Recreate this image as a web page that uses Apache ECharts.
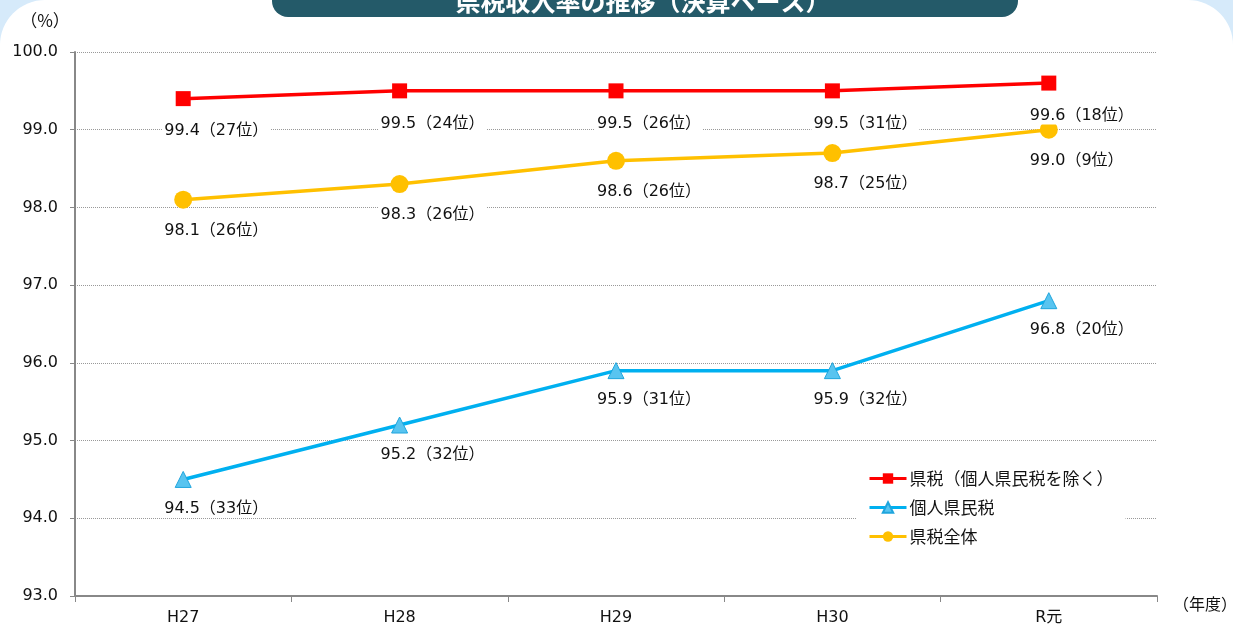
<!DOCTYPE html>
<html><head><meta charset="utf-8">
<script src="https://cdn.jsdelivr.net/npm/echarts@6/dist/echarts.min.js"></script>
<style>html,body{margin:0;padding:0;background:#d6eafa;}#c{width:1233px;height:628px;}</style>
</head><body><div id="c"></div>
<script>
const categories = ['H27', 'H28', 'H29', 'H30', 'R元'];
const seriesNames = ['県税（個人県民税を除く）', '個人県民税', '県税全体'];
const kenzeiValues = [99.4, 99.5, 99.5, 99.5, 99.6];
const kenzeiRanks = [27, 24, 26, 31, 18];
const kojinValues = [94.5, 95.2, 95.9, 95.9, 96.8];
const kojinRanks = [33, 32, 31, 32, 20];
const zentaiValues = [98.1, 98.3, 98.6, 98.7, 99.0];
const zentaiRanks = [26, 26, 26, 25, 9];

const FONT = '"DejaVu Sans", "Noto Sans CJK JP", sans-serif';
const chart = echarts.init(document.getElementById('c'), null, {renderer: 'canvas'});

function mkData(vals, ranks) {
  return vals.map((v, i) => ({value: v, rank: ranks[i]}));
}
function labelCfg(dy) {
  return {
    show: true,
    position: 'bottom',
    align: 'left',
    verticalAlign: 'middle',
    distance: 0,
    offset: [-21, dy],
    color: '#111',
    fontSize: 16,
    fontFamily: FONT,
    backgroundColor: '#fff',
    padding: [1, 2],
    formatter: p => p.value.toFixed(1) + '（' + p.data.rank + '位）'
  };
}

chart.setOption({
  animation: false,
  backgroundColor: 'transparent',
  textStyle: {fontFamily: FONT},
  graphic: [
    {type: 'rect', z: -10, shape: {x: 0, y: 0, width: 1233, height: 680, r: 45}, style: {fill: '#fff'}},
    {type: 'rect', z: 10, shape: {x: 272, y: -40, width: 746, height: 57, r: 16}, style: {fill: '#245a69'}},
    {type: 'text', z: 11, style: {text: '県税収入率の推移（決算ベース）', x: 643, y: 1, fill: '#fff', font: 'bold 25px "Noto Sans CJK JP"', textAlign: 'center', textVerticalAlign: 'middle'}},
    {type: 'text', z: 11, style: {text: '（%）', x: 45, y: 21, fill: '#111', font: '17px "Noto Sans CJK JP"', textAlign: 'center', textVerticalAlign: 'middle'}},
    {type: 'text', z: 11, style: {text: '（年度）', x: 1205, y: 604, fill: '#111', font: '16px "Noto Sans CJK JP"', textAlign: 'center', textVerticalAlign: 'middle'}}
  ],
  grid: {left: 75, right: 76, top: 52, bottom: 32, containLabel: false},
  legend: {
    orient: 'vertical',
    left: 856,
    top: 464,
    padding: [6, 12],
    backgroundColor: '#fff',
    itemWidth: 37,
    itemHeight: 13,
    itemGap: 12,
    lineStyle: {width: 3},
    textStyle: {fontSize: 17, color: '#111', fontFamily: '"Noto Sans CJK JP"', padding: [0, 0, 0, -2]},
    data: seriesNames
  },
  xAxis: {
    type: 'category',
    data: categories,
    boundaryGap: true,
    axisLine: {lineStyle: {color: '#888', width: 2}},
    axisTick: {show: true, length: 6, lineStyle: {color: '#888', width: 1}},
    axisLabel: {fontSize: 16, color: '#111', margin: 14, fontFamily: FONT},
    splitLine: {show: false}
  },
  yAxis: {
    type: 'value',
    min: 93, max: 100, interval: 1,
    axisLine: {show: true, lineStyle: {color: '#888', width: 2}},
    axisTick: {show: true, length: 5, inside: false, lineStyle: {color: '#888'}},
    axisLabel: {fontSize: 16, color: '#111', margin: 17, fontFamily: FONT, formatter: v => v.toFixed(1)},
    splitLine: {show: true, lineStyle: {color: '#999', type: [1, 1], width: 1}}
  },
  series: [
    {
      name: seriesNames[0], type: 'line', data: mkData(kenzeiValues, kenzeiRanks),
      symbol: 'rect', symbolSize: 15, lineStyle: {color: '#ff0000', width: 3.5},
      itemStyle: {color: '#ff0000'}, label: labelCfg(25), z: 5
    },
    {
      name: seriesNames[1], type: 'line', data: mkData(kojinValues, kojinRanks),
      symbol: 'triangle', symbolSize: 16, lineStyle: {color: '#00b0f0', width: 3.5},
      itemStyle: {color: '#58c4f0', borderColor: '#1fa5dd', borderWidth: 1}, label: labelCfg(21), z: 4
    },
    {
      name: seriesNames[2], type: 'line', data: mkData(zentaiValues, zentaiRanks),
      symbol: 'circle', symbolSize: 18, lineStyle: {color: '#ffc000', width: 3.5},
      itemStyle: {color: '#ffc000'}, label: labelCfg(22), z: 3
    }
  ]
});
</script></body></html>
